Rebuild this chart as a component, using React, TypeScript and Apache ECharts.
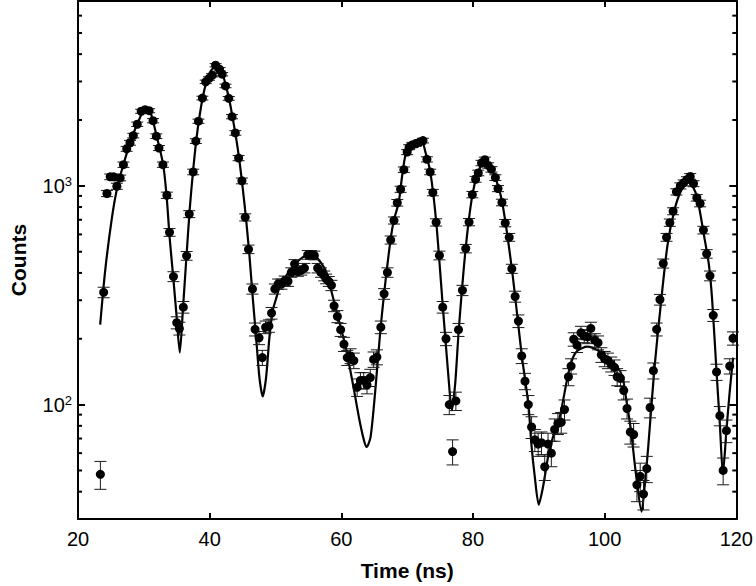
import React, { useEffect, useRef } from "react";
import * as echarts from "echarts";

const times = [
  23.4, 23.9, 24.4, 24.9, 25.4, 25.9, 26.4, 26.9, 27.4, 27.9, 28.4, 29.0, 29.6, 30.2, 30.8, 31.4, 31.9, 32.3,
  32.9, 33.5, 33.9, 34.5, 35.0, 35.4, 36.0, 36.5, 36.9, 37.5, 37.9, 38.3, 38.9, 39.4, 39.9, 40.4, 40.9, 41.5,
  41.9, 42.4, 42.9, 43.4, 43.9, 44.4, 44.9, 45.4, 45.9, 46.5, 46.9, 47.5, 48.0, 48.5, 49.0, 49.4, 49.9, 50.4,
  50.9, 51.4, 51.9, 52.4, 52.9, 53.4, 53.9, 54.4, 54.9, 55.4, 55.9, 56.4, 56.9, 57.4, 57.7, 58.1, 58.5, 58.9,
  59.4, 59.9, 60.4, 60.9, 61.4, 61.9, 62.4, 62.9, 63.4, 63.9, 64.4, 64.9, 65.4, 66.0, 66.5, 67.0, 67.5, 68.0,
  68.5, 69.0, 69.5, 70.0, 70.3, 70.8, 71.3, 71.9, 72.4, 73.0, 73.5, 73.9, 74.4, 74.9, 75.4, 75.9, 76.4, 76.9,
  77.4, 77.8, 78.4, 78.9, 79.4, 79.9, 80.4, 80.8, 81.3, 81.8, 82.3, 82.8, 83.4, 83.8, 84.4, 84.9, 85.5, 85.9,
  86.4, 86.9, 87.4, 87.9, 88.4, 88.9, 89.4, 89.9, 90.4, 90.9, 91.4, 91.9, 92.4, 92.9, 93.4, 93.9, 94.5, 94.9,
  95.3, 95.8, 96.4, 96.9, 97.4, 97.9, 98.5, 99.0, 99.5, 100.0, 100.5, 101.0, 101.5, 101.9, 102.4, 102.9, 103.4, 103.9,
  104.4, 104.9, 105.4, 105.9, 106.4, 106.9, 107.4, 107.9, 108.4, 108.9, 109.4, 109.9, 110.4, 110.9, 111.5, 112.0, 112.5, 113.0,
  113.5, 114.0, 114.5, 115.0, 115.5, 116.0, 116.5, 117.0, 117.5, 118.0, 118.5, 119.0, 119.5,
];
const counts = [
  48, 326, 923, 1100, 1100, 996, 1087, 1250, 1477, 1574, 1698, 1913, 2193, 2229, 2206, 1986, 1687, 1489,
  1250, 906, 613, 385, 237, 223, 279, 479, 743, 1158, 1602, 1975, 2520, 2989, 3097, 3206, 3559, 3413,
  3239, 2864, 2512, 2072, 1746, 1340, 1054, 718, 513, 338, 221, 202, 164, 226, 229, 262, 338, 356,
  356, 368, 366, 402, 439, 406, 411, 421, 484, 484, 481, 421, 402, 388, 376, 366, 351, 283,
  253, 220, 189, 164, 167, 159, 120, 129, 129, 123, 133, 161, 165, 226, 321, 402, 566, 695,
  837, 965, 1186, 1427, 1503, 1541, 1556, 1585, 1611, 1322, 1158, 932, 681, 481, 279, 200, 100, 61,
  104, 220, 333, 517, 683, 912, 1072, 1146, 1272, 1317, 1240, 1190, 1091, 972, 840, 676, 582, 418,
  312, 241, 167, 128, 100, 79, 69, 66, 67, 52, 66, 60, 77, 82, 83, 95, 134, 150,
  199, 187, 213, 206, 204, 223, 197, 192, 169, 162, 159, 153, 148, 134, 132, 116, 96, 75,
  73, 43, 47, 39, 51, 97, 143, 221, 302, 442, 582, 679, 766, 939, 1000, 1032, 1068, 1105,
  1024, 882, 831, 628, 489, 388, 256, 141, 89, 50, 76, 150, 201,
];
const errors = [
  7, 18, 30, 33, 33, 32, 33, 35, 38, 40, 41, 44, 47, 47, 47, 45, 41, 39,
  35, 30, 25, 20, 15, 15, 17, 22, 27, 34, 40, 44, 50, 55, 56, 57, 60, 58,
  57, 54, 50, 46, 42, 37, 32, 27, 23, 18, 15, 14, 13, 15, 15, 16, 18, 19,
  19, 19, 19, 20, 21, 20, 20, 21, 22, 22, 22, 21, 20, 20, 19, 19, 19, 17,
  16, 15, 14, 13, 13, 13, 11, 11, 11, 11, 12, 13, 13, 15, 18, 20, 24, 26,
  29, 31, 34, 38, 39, 39, 39, 40, 40, 36, 34, 31, 26, 22, 17, 14, 10, 8,
  10, 15, 18, 23, 26, 30, 33, 34, 36, 36, 35, 34, 33, 31, 29, 26, 24, 20,
  18, 16, 13, 11, 10, 9, 8, 8, 8, 7, 8, 8, 9, 9, 9, 10, 12, 12,
  14, 14, 15, 14, 14, 15, 14, 14, 13, 13, 13, 12, 12, 12, 11, 11, 10, 9,
  9, 7, 7, 6, 7, 10, 12, 15, 17, 21, 24, 26, 28, 31, 32, 32, 33, 33,
  32, 30, 29, 25, 22, 20, 16, 12, 9, 7, 9, 12, 14,
];

// Fitted curve
const fitTimes = [
  23.37, 24.12, 25.14, 25.99, 26.89, 27.91, 29.01, 30.17, 30.93, 31.94, 32.94, 33.45, 33.93, 34.45, 34.97, 35.46,
  35.96, 36.48, 36.98, 37.47, 37.99, 38.49, 38.99, 39.5, 40.0, 40.5, 41.01, 41.51, 42.01, 42.52, 43.02, 43.52,
  44.04, 44.54, 45.03, 45.55, 46.05, 46.55, 47.06, 47.56, 48.06, 48.57, 49.07, 49.57, 50.08, 50.58, 51.59, 53.11,
  54.62, 55.37, 56.37, 57.64, 58.64, 59.65, 60.67, 61.66, 62.67, 63.43, 63.84, 64.44, 65.2, 65.96, 66.71, 67.47,
  67.97, 68.72, 69.22, 69.73, 70.49, 71.49, 72.24, 72.76, 73.51, 74.42, 75.42, 76.28, 76.78, 77.29, 77.84, 78.89,
  79.91, 80.82, 81.72, 82.43, 83.34, 84.44, 85.91, 87.42, 88.42, 88.87, 89.39, 89.99, 90.64, 91.4, 92.15, 93.17,
  94.42, 95.18, 95.93, 97.34, 98.95, 100.46, 101.98, 102.73, 103.23, 103.99, 104.75, 105.61, 106.11, 106.62, 107.53, 108.52,
  109.54, 110.55, 111.55, 112.67, 113.32, 114.08, 115.09, 115.84, 116.34, 116.99, 117.5, 117.96, 118.5, 119.01, 119.51,
];
const fitCounts = [
  232, 408, 710, 993, 1250, 1574, 1919, 2223, 2198, 1693, 1250, 904, 576, 387, 255, 173,
  280, 477, 789, 1161, 1641, 2109, 2573, 2979, 3273, 3450, 3484, 3413, 3206, 2828, 2442, 2023,
  1641, 1290, 972, 695, 477, 307, 202, 133, 109, 133, 202, 268, 304, 341, 387, 444,
  482, 492, 467, 408, 317, 242, 182, 129, 87.6, 68.8, 64, 71, 120, 224, 367, 564,
  695, 840, 1101, 1373, 1523, 1574, 1595, 1432, 1161, 681, 280, 133, 94.2, 124, 220, 519,
  912, 1161, 1290, 1236, 1101, 840, 416, 167, 100, 66, 46.7, 34.9, 42.1, 57.6, 71, 87.6,
  136, 164, 177, 184, 177, 161, 148, 133, 108, 76.4, 48.2, 32.4, 43.4, 64, 143, 286,
  535, 764, 942, 1046, 1003, 875, 594, 435, 298, 142, 81.4, 48.2, 76.4, 116, 164,
];

const xTickValues = [20, 40, 60, 80, 100, 120];
const yMinorTicks = [40, 50, 60, 70, 80, 90, 200, 300, 400, 500, 600, 700, 800, 900, 2000, 3000, 4000, 5000, 6000];

const FONT = "'Liberation Sans', Arial, Helvetica, sans-serif";

export default function App() {
  const ref = useRef<HTMLDivElement>(null);

  useEffect(() => {
    document.body.style.margin = "0";
    const el = ref.current!;
    const chart = echarts.init(el, null, { renderer: "svg" });

    const axisLine = { show: true, onZero: false, lineStyle: { color: "#000", width: 2 } };
    const tick = { show: true, inside: true, length: 6, lineStyle: { color: "#000", width: 2 } };

    const logLabel = (v: number) => {
      const e = Math.round(Math.log10(v));
      if (Math.abs(v - Math.pow(10, e)) > 1e-6 * v) return "";
      return `{b|10}{s|${e}}`;
    };

    const option: any = {
      animation: false,
      backgroundColor: "#fff",
      grid: { left: 78, right: 17, top: 1, bottom: 64, containLabel: false },
      xAxis: [
        {
          type: "value",
          min: xTickValues[0],
          max: xTickValues[xTickValues.length - 1],
          interval: 20,
          position: "bottom",
          axisLine,
          axisTick: tick,
          splitLine: { show: false },
          axisLabel: { margin: 10, fontSize: 20, color: "#000", fontFamily: FONT },
          name: "Time (ns)",
          nameLocation: "middle",
          nameGap: 41,
          nameTextStyle: { fontSize: 21, fontWeight: "bold", color: "#000", fontFamily: FONT },
        },
        {
          type: "value",
          min: xTickValues[0],
          max: xTickValues[xTickValues.length - 1],
          interval: 20,
          position: "top",
          axisLine,
          axisTick: tick,
          splitLine: { show: false },
          axisLabel: { show: false },
        },
      ],
      yAxis: [
        {
          type: "log",
          logBase: 10,
          min: 30,
          max: 7000,
          position: "left",
          axisLine,
          axisTick: { ...tick, length: 7 },
          splitLine: { show: false },
          axisLabel: {
            margin: 6,
            color: "#000",
            fontFamily: FONT,
            formatter: logLabel,
            rich: {
              b: { fontSize: 20, fontFamily: FONT, color: "#000", lineHeight: 22 },
              s: { fontSize: 13, fontFamily: FONT, color: "#000", verticalAlign: "top", lineHeight: 13 },
            },
          },
          name: "Counts",
          nameLocation: "middle",
          nameRotate: 90,
          nameGap: 49,
          nameTextStyle: { fontSize: 21, fontWeight: "bold", color: "#000", fontFamily: FONT },
        },
        {
          type: "log",
          logBase: 10,
          min: 30,
          max: 7000,
          position: "right",
          axisLine,
          axisTick: { ...tick, length: 7 },
          splitLine: { show: false },
          axisLabel: { show: false },
        },
      ],
      series: [
        {
          type: "line",
          data: fitTimes.map((t, i) => [t, fitCounts[i]]),
          showSymbol: false,
          smooth: 0.25,
          lineStyle: { color: "#000", width: 2.2 },
          z: 2,
        },
        {
          type: "custom",
          data: times.map((t, i) => [t, counts[i] - errors[i], counts[i] + errors[i]]),
          encode: { x: 0, y: [1, 2] },
          renderItem: (params: any, api: any) => {
            const x = api.value(0);
            const lo = api.coord([x, api.value(1)]);
            const hi = api.coord([x, api.value(2)]);
            const w = 6;
            const st = { stroke: "#1a1a1a", lineWidth: 1 };
            return {
              type: "group",
              children: [
                { type: "line", shape: { x1: lo[0], y1: lo[1], x2: hi[0], y2: hi[1] }, style: st },
                { type: "line", shape: { x1: lo[0] - w, y1: lo[1], x2: lo[0] + w, y2: lo[1] }, style: st },
                { type: "line", shape: { x1: hi[0] - w, y1: hi[1], x2: hi[0] + w, y2: hi[1] }, style: st },
              ],
            };
          },
          z: 3,
        },
        {
          type: "scatter",
          data: times.map((t, i) => [t, counts[i]]),
          symbol: "circle",
          symbolSize: 9,
          itemStyle: { color: "#000", opacity: 1 },
          z: 4,
        },
      ],
    };

    chart.setOption(option);

    // minor log ticks on left and right frame
    const xl = chart.convertToPixel({ xAxisIndex: 0 }, xTickValues[0]) as number;
    const xr = chart.convertToPixel({ xAxisIndex: 0 }, xTickValues[xTickValues.length - 1]) as number;
    const elements: any[] = [];
    yMinorTicks.forEach((v) => {
      const py = chart.convertToPixel({ yAxisIndex: 0 }, v) as number;
      elements.push({
        type: "line",
        shape: { x1: xl, y1: py, x2: xl + 4, y2: py },
        style: { stroke: "#000", lineWidth: 2 },
        z: 10,
      });
      elements.push({
        type: "line",
        shape: { x1: xr - 4, y1: py, x2: xr, y2: py },
        style: { stroke: "#000", lineWidth: 2 },
        z: 10,
      });
    });
    chart.setOption({ graphic: { elements } });

    return () => chart.dispose();
  }, []);

  return <div ref={ref} style={{ width: 756, height: 586 }} />;
}
